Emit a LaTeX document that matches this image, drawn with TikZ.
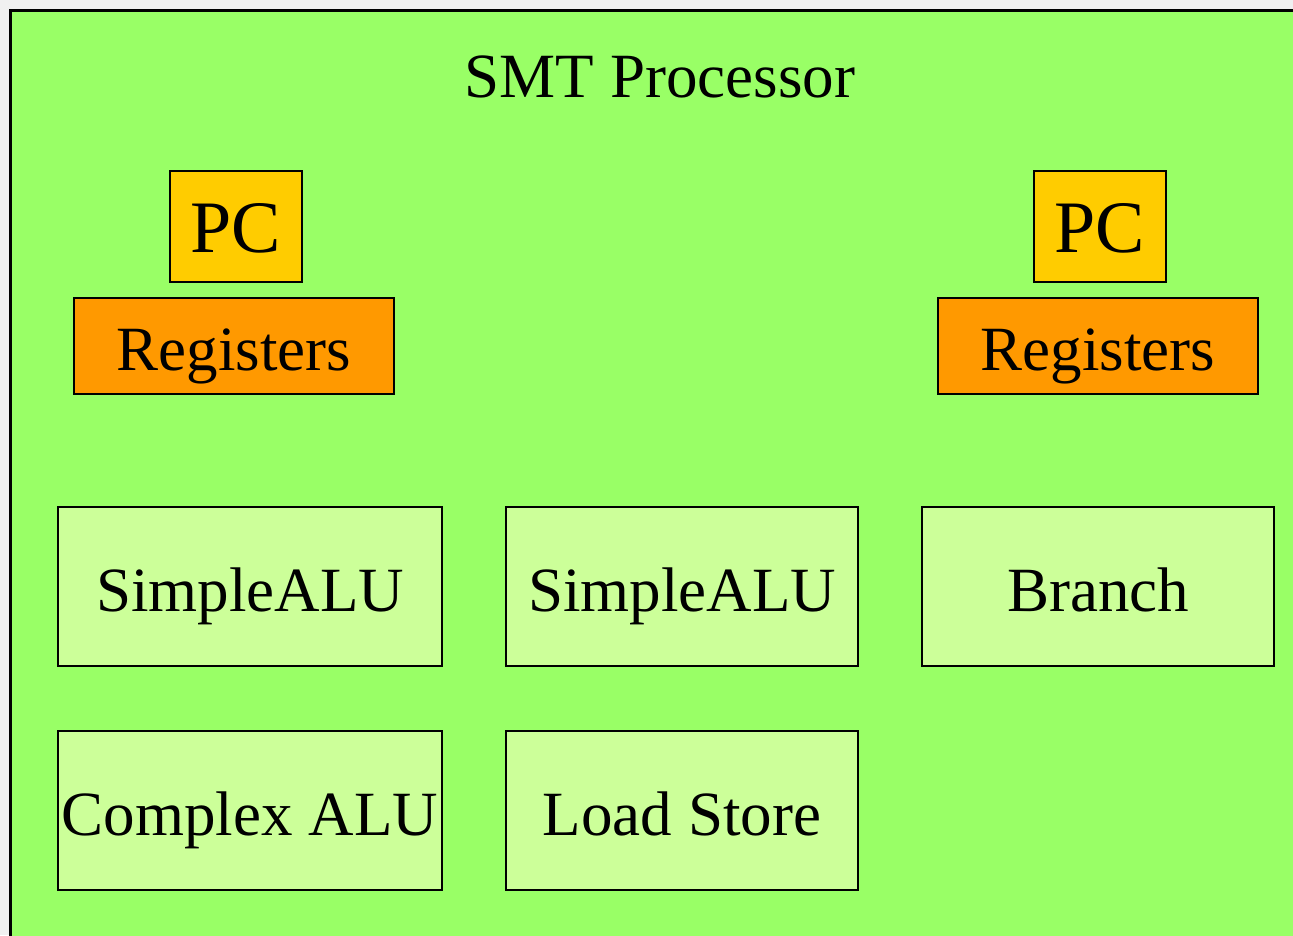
\documentclass[tikz,border=0pt]{standalone}
\usepackage{fontspec}
\setmainfont{Liberation Serif}
\definecolor{procgreen}{HTML}{99FF66}
\definecolor{pcyellow}{HTML}{FFCC00}
\definecolor{regorange}{HTML}{FF9900}
\definecolor{unitgreen}{HTML}{CCFF99}
\definecolor{pagegray}{HTML}{F0F0F0}
\tikzset{
  box/.style={draw=black, line width=2pt, inner sep=0pt, align=center,
    font=\fontsize{63}{70}\selectfont, text height=49pt, text depth=0pt},
  pcbox/.style={box, fill=pcyellow, minimum width=132pt, minimum height=111pt,
    font=\fontsize{74}{80}\selectfont, text height=51pt},
  regbox/.style={box, fill=regorange, minimum width=320pt, minimum height=96pt},
  unitbox/.style={box, fill=unitgreen, minimum height=159pt},
}
\begin{document}
\begin{tikzpicture}[x=1pt, y=-1pt]
  \useasboundingbox (0,0) rectangle (1293,935);
  \clip (0,0) rectangle (1293,935);
  \fill[pagegray] (0,0) rectangle (1293,935);
  % processor frame, running off the right and bottom edges
  \draw[fill=procgreen, line width=2.5pt] (10.5,10.5) rectangle (1320,960);
  \node[anchor=base, font=\fontsize{63}{70}\selectfont] (title) at (660,97) {SMT Processor};
  % thread contexts
  \node[pcbox] (pcA) at (236,226.5) {PC};
  \node[regbox] (regA) at (234,346) {Registers};
  \node[pcbox] (pcB) at (1100,226.5) {PC};
  \node[regbox] (regB) at (1098,346) {Registers};
  % functional units
  \node[unitbox, minimum width=384pt] (alu1) at (250,586.5) {SimpleALU};
  \node[unitbox, minimum width=352pt] (alu2) at (682,586.5) {SimpleALU};
  \node[unitbox, minimum width=352pt] (branch) at (1098,586.5) {Branch};
  \node[unitbox, minimum width=384pt] (cplx) at (250,810.5) {Complex ALU};
  \node[unitbox, minimum width=352pt] (ldst) at (682,810.5) {Load Store};
\end{tikzpicture}
\end{document}
